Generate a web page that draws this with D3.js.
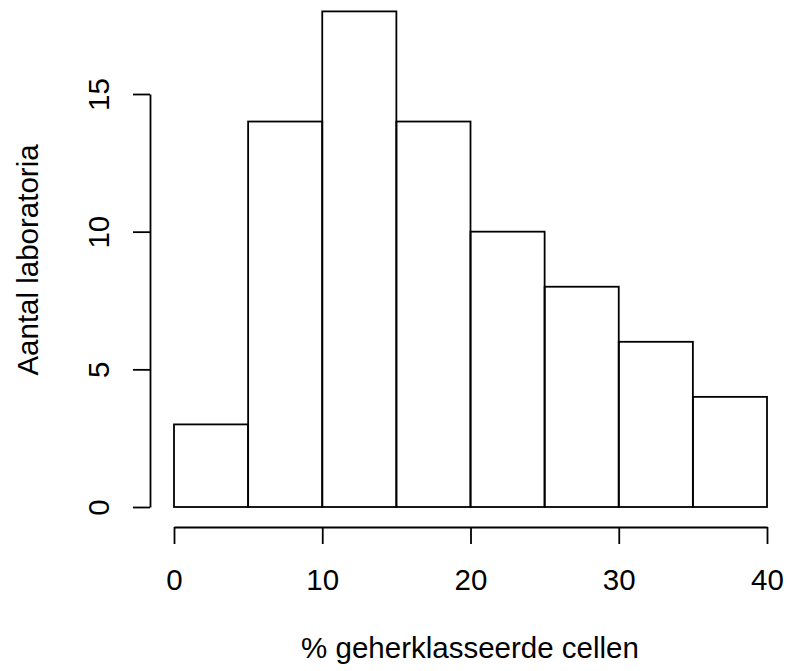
<!DOCTYPE html>
<html lang="nl">
<head>
    <meta charset="UTF-8">
    <title>Histogram laboratoria</title>
    <script src="https://d3js.org/d3.v7.min.js"></script>
    <style>
        body { margin: 0; background: #fff; }
        svg { display: block; }
    </style>
</head>
<body>
    <div id="chart"></div>
    <script>
        // histogram bins (breaks) and counts
        const breaks = [0, 5, 10, 15, 20, 25, 30, 35, 40];
        const counts = [3, 14, 18, 14, 10, 8, 6, 4];
        const xTicks = [0, 10, 20, 30, 40];
        const yTicks = [0, 5, 10, 15];
        const xTitle = '% geherklasseerde cellen';
        const yTitle = 'Aantal laboratoria';

        const width = 787, height = 671;
        const font = '"Liberation Sans", Arial, sans-serif';
        const fs = '29.5px';
        const lw = 1.8;

        const svg = d3.select('#chart')
            .append('svg')
            .attr('width', width)
            .attr('height', height)
            .style('font-family', font);

        // scales (R style: axes drawn at the plot region edge)
        const x = d3.scaleLinear().domain([0, 40]).range([174, 767]);
        const y = d3.scaleLinear().domain([0, 15]).range([507, 94]);
        const axisX = 527;   // y pixel of the x axis
        const axisY = 150;   // x pixel of the y axis

        const bins = counts.map((c, i) => ({ x0: breaks[i], x1: breaks[i + 1], n: c }));

        // bars
        svg.append('g')
            .selectAll('rect')
            .data(bins)
            .enter()
            .append('rect')
            .attr('x', d => x(d.x0))
            .attr('y', d => y(d.n))
            .attr('width', d => x(d.x1) - x(d.x0))
            .attr('height', d => y(0) - y(d.n))
            .attr('fill', 'none')
            .attr('stroke', 'black')
            .attr('stroke-width', lw);

        // x axis
        const gx = svg.append('g')
            .attr('transform', `translate(0,${axisX})`)
            .call(d3.axisBottom(x).tickValues(xTicks).tickSize(17).tickSizeOuter(0).tickFormat(d3.format('d')));
        gx.selectAll('path, line').attr('stroke', 'black').attr('stroke-width', lw);
        gx.selectAll('text')
            .attr('y', 63)
            .attr('dy', null)
            .attr('fill', 'black')
            .style('font-size', fs)
            .style('font-family', font);

        // y axis (only spans the tick range, like R)
        const gy = svg.append('g')
            .attr('transform', `translate(${axisY},0)`)
            .call(d3.axisLeft(y).tickValues(yTicks).tickSize(17).tickSizeOuter(0).tickFormat(d3.format('d')));
        gy.selectAll('path, line').attr('stroke', 'black').attr('stroke-width', lw);
        gy.selectAll('text')
            .attr('x', null)
            .attr('dy', null)
            .attr('transform', 'translate(-41,0) rotate(-90)')
            .attr('text-anchor', 'middle')
            .attr('fill', 'black')
            .style('font-size', fs)
            .style('font-family', font);

        // axis titles
        svg.append('text')
            .attr('x', 470)
            .attr('y', 658)
            .attr('text-anchor', 'middle')
            .attr('font-size', fs)
            .attr('fill', 'black')
            .text(xTitle);

        svg.append('text')
            .attr('transform', 'translate(38,260) rotate(-90)')
            .attr('text-anchor', 'middle')
            .attr('font-size', fs)
            .attr('fill', 'black')
            .text(yTitle);
    </script>
</body>
</html>
